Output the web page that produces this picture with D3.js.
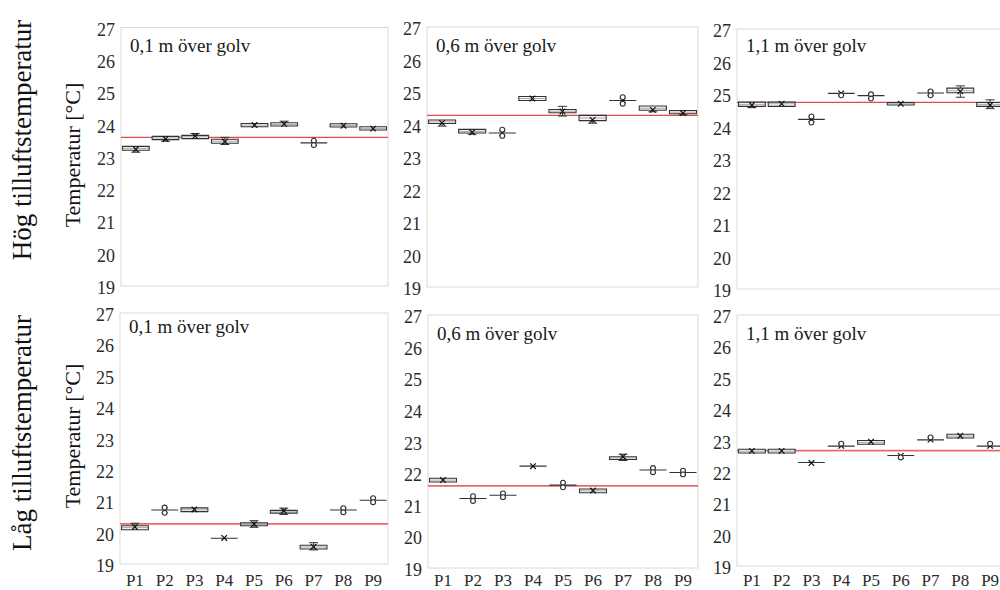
<!DOCTYPE html>
<html>
<head>
<meta charset="utf-8">
<script src="https://cdn.jsdelivr.net/npm/d3@7"></script>
<style>
  html, body { margin: 0; padding: 0; background: #fff; }
  svg { display: block; }
  svg text { font-family: "Liberation Serif", "Times New Roman", Times, "DejaVu Serif", serif !important; }
</style>
</head>
<body>
<svg id="chart" width="1000" height="590"></svg>
<script>
// Measuring points and axis ticks
const points = ["P1", "P2", "P3", "P4", "P5", "P6", "P7", "P8", "P9"];
const yTicks = [19, 20, 21, 22, 23, 24, 25, 26, 27];
const rowTitles = ["Hög tilluftstemperatur", "Låg tilluftstemperatur"];
const heightTitles = ["0,1 m över golv", "0,6 m över golv", "1,1 m över golv"];
const axisTitle = "Temperatur [°C]";

// Reference temperature per panel (row: high / low supply temperature)
const refHigh = [23.6, 24.28, 24.74];
const refLow = [20.28, 21.6, 22.68];

// Box statistics per point: [min, q1, median, q3, max, mean]
const high01 = [
  [23.14, 23.20, 23.26, 23.32, 23.32, 23.23],
  [23.48, 23.53, 23.58, 23.63, 23.63, 23.55],
  [23.56, 23.56, 23.62, 23.66, 23.72, 23.64],
  [23.38, 23.42, 23.48, 23.54, 23.60, 23.47],
  [23.93, 23.93, 23.98, 24.03, 24.03, 23.98],
  [23.95, 23.95, 24.00, 24.05, 24.10, 24.01],
  [23.43, 23.43, 23.43, 23.43, 23.43, 23.42],
  [23.92, 23.92, 23.97, 24.02, 24.02, 23.96],
  [23.83, 23.83, 23.88, 23.93, 23.93, 23.87]
];
const high06 = [
  [23.95, 24.03, 24.08, 24.14, 24.14, 24.05],
  [23.70, 23.74, 23.79, 23.85, 23.85, 23.76],
  [23.74, 23.74, 23.74, 23.74, 23.74, 23.74],
  [24.74, 24.74, 24.80, 24.86, 24.86, 24.80],
  [24.26, 24.36, 24.41, 24.46, 24.56, 24.40],
  [24.04, 24.12, 24.20, 24.28, 24.28, 24.14],
  [24.74, 24.74, 24.74, 24.74, 24.74, 24.74],
  [24.39, 24.44, 24.50, 24.57, 24.57, 24.45],
  [24.30, 24.33, 24.38, 24.43, 24.43, 24.35]
];
const high11 = [
  [24.58, 24.62, 24.68, 24.75, 24.75, 24.66],
  [24.62, 24.62, 24.70, 24.75, 24.75, 24.70],
  [24.22, 24.22, 24.22, 24.22, 24.22, 24.22],
  [25.02, 25.02, 25.02, 25.02, 25.02, 25.02],
  [24.95, 24.95, 24.95, 24.95, 24.95, 24.93],
  [24.66, 24.66, 24.70, 24.74, 24.74, 24.70],
  [25.03, 25.03, 25.03, 25.03, 25.03, 25.02],
  [24.90, 25.04, 25.10, 25.18, 25.25, 25.08],
  [24.55, 24.62, 24.68, 24.74, 24.82, 24.66]
];
const low01 = [
  [20.09, 20.09, 20.16, 20.22, 20.30, 20.18],
  [20.72, 20.72, 20.72, 20.72, 20.72, 20.71],
  [20.67, 20.67, 20.73, 20.79, 20.79, 20.74],
  [19.82, 19.82, 19.82, 19.82, 19.82, 19.83],
  [20.17, 20.22, 20.26, 20.31, 20.38, 20.27],
  [20.58, 20.62, 20.66, 20.71, 20.78, 20.70],
  [19.45, 19.48, 19.54, 19.60, 19.68, 19.55],
  [20.72, 20.72, 20.72, 20.72, 20.72, 20.71],
  [21.03, 21.03, 21.03, 21.03, 21.03, 21.03]
];
const low06 = [
  [21.72, 21.72, 21.78, 21.84, 21.84, 21.78],
  [21.20, 21.20, 21.20, 21.20, 21.20, 21.19],
  [21.30, 21.30, 21.30, 21.30, 21.30, 21.29],
  [22.22, 22.22, 22.22, 22.22, 22.22, 22.22],
  [21.62, 21.62, 21.62, 21.62, 21.62, 21.62],
  [21.38, 21.38, 21.44, 21.50, 21.50, 21.45],
  [22.40, 22.43, 22.48, 22.52, 22.60, 22.52],
  [22.10, 22.10, 22.10, 22.10, 22.10, 22.09],
  [22.02, 22.02, 22.02, 22.02, 22.02, 22.01]
];
const low11 = [
  [22.60, 22.60, 22.66, 22.72, 22.72, 22.67],
  [22.60, 22.60, 22.66, 22.72, 22.72, 22.67],
  [22.30, 22.30, 22.30, 22.30, 22.30, 22.28],
  [22.82, 22.82, 22.82, 22.82, 22.82, 22.83],
  [22.88, 22.88, 22.94, 23.00, 23.00, 22.96],
  [22.52, 22.52, 22.52, 22.52, 22.52, 22.51],
  [23.02, 23.02, 23.02, 23.02, 23.02, 23.03],
  [23.08, 23.08, 23.14, 23.20, 23.20, 23.15],
  [22.82, 22.82, 22.82, 22.82, 22.82, 22.83]
];

// Outlying readings per point
const high01Out = [[], [], [], [], [], [], [23.50, 23.36], [], []];
const high06Out = [[], [], [23.84, 23.65], [], [], [], [24.84, 24.64], [], []];
const high11Out = [[], [], [24.31, 24.12], [24.96], [24.99, 24.86], [], [25.08, 24.96], [], []];
const low01Out = [[], [20.80, 20.63], [], [], [], [], [], [20.78, 20.65], [21.10, 20.97]];
const low06Out = [[], [21.27, 21.12], [21.36, 21.24], [], [21.70, 21.55], [], [], [22.16, 22.03], [22.08, 21.96]];
const low11Out = [[], [], [], [22.90], [], [22.46], [23.10], [], [22.90]];

// Panel frames (plot areas) in page pixels
const panels = [
  { stats: high01, out: high01Out, ref: refHigh[0], title: heightTitles[0], row: 0, x0: 121, x1: 388, y0: 27.5, y1: 286, titleY: 52 },
  { stats: high06, out: high06Out, ref: refHigh[1], title: heightTitles[1], row: 0, x0: 427, x1: 698, y0: 27, y1: 287, titleY: 52 },
  { stats: high11, out: high11Out, ref: refHigh[2], title: heightTitles[2], row: 0, x0: 737, x1: 1005, y0: 29, y1: 289, titleY: 52 },
  { stats: low01, out: low01Out, ref: refLow[0], title: heightTitles[0], row: 1, x0: 120, x1: 388, y0: 313, y1: 564, titleY: 333 },
  { stats: low06, out: low06Out, ref: refLow[1], title: heightTitles[1], row: 1, x0: 428, x1: 698, y0: 315, y1: 568, titleY: 340 },
  { stats: low11, out: low11Out, ref: refLow[2], title: heightTitles[2], row: 1, x0: 737, x1: 1005, y0: 315, y1: 566, titleY: 340 }
];

const svg = d3.select("#chart");
const ink = "#333";

// Row titles and y-axis titles
rowTitles.forEach((t, i) => {
  const cy = i === 0 ? 140 : 433;
  svg.append("text")
    .attr("transform", `translate(31,${cy}) rotate(-90)`)
    .attr("text-anchor", "middle")
    .attr("font-size", 27)
    .attr("fill", "#111")
    .text(t);
  const cy2 = i === 0 ? 155 : 436;
  svg.append("text")
    .attr("transform", `translate(80,${cy2}) rotate(-90)`)
    .attr("text-anchor", "middle")
    .attr("font-size", 22)
    .attr("fill", "#111")
    .text(axisTitle);
});

panels.forEach(p => {
  const g = svg.append("g");
  const x = d3.scaleBand().domain(points).range([p.x0, p.x1]).paddingInner(0.1).paddingOuter(0.05);
  const y = d3.scaleLinear().domain([yTicks[0], yTicks[yTicks.length - 1]]).range([p.y1, p.y0]);

  // plot-area frame
  g.append("rect")
    .attr("x", p.x0).attr("y", p.y0)
    .attr("width", p.x1 - p.x0).attr("height", p.y1 - p.y0)
    .attr("fill", "none").attr("stroke", "#d9d9d9").attr("stroke-width", 1);

  // y axis labels
  const ya = g.append("g")
    .attr("transform", `translate(${p.x0},0)`)
    .call(d3.axisLeft(y).tickValues(yTicks).tickSize(0).tickPadding(6).tickFormat(d3.format("d")));
  ya.select(".domain").remove();
  ya.selectAll("text")
    .attr("font-size", 18)
    .attr("fill", "#2b2b2b")
    .attr("dy", "0.42em");

  // x axis labels, bottom row only
  if (p.row === 1) {
    const xa = g.append("g")
      .attr("transform", `translate(0,${p.y1})`)
      .call(d3.axisBottom(x).tickSize(0));
    xa.select(".domain").remove();
    xa.selectAll("text")
      .attr("font-size", 17)
      .attr("fill", "#2b2b2b")
      .attr("y", 586 - p.y1)
      .attr("dy", 0);
  }

  // reference level
  g.append("line")
    .attr("x1", p.x0).attr("x2", p.x1)
    .attr("y1", y(p.ref)).attr("y2", y(p.ref))
    .attr("stroke", p.row === 0 ? "#e04b4b" : "#e86a6a")
    .attr("stroke-width", p.row === 0 ? 1.3 : 1.8);

  // panel title
  g.append("text")
    .attr("x", p.x0 + 9).attr("y", p.titleY)
    .attr("font-size", 19)
    .attr("fill", "#1a1a1a")
    .text(p.title);

  // box plots
  const capW = 9;
  points.forEach((pt, i) => {
    const [lo, q1, med, q3, hi, mean] = p.stats[i];
    const bx = x(pt), bw = x.bandwidth(), cx = bx + bw / 2;
    const b = g.append("g");
    // whiskers
    if (hi > q3) {
      b.append("line").attr("x1", cx).attr("x2", cx).attr("y1", y(q3)).attr("y2", y(hi)).attr("stroke", ink);
      b.append("line").attr("x1", cx - capW / 2).attr("x2", cx + capW / 2).attr("y1", y(hi)).attr("y2", y(hi)).attr("stroke", ink);
    }
    if (lo < q1) {
      b.append("line").attr("x1", cx).attr("x2", cx).attr("y1", y(q1)).attr("y2", y(lo)).attr("stroke", ink);
      b.append("line").attr("x1", cx - capW / 2).attr("x2", cx + capW / 2).attr("y1", y(lo)).attr("y2", y(lo)).attr("stroke", ink);
    }
    // box (collapses to a line when q1 == q3)
    const yt = y(q3), yb = y(q1);
    b.append("path")
      .attr("d", `M${bx},${yt}H${bx + bw}V${yb}H${bx}Z`)
      .attr("fill", "#f7f7f7").attr("stroke", ink).attr("stroke-width", 1.1);
    if (q3 > q1) {
      b.append("line").attr("x1", bx).attr("x2", bx + bw).attr("y1", y(med)).attr("y2", y(med))
        .attr("stroke", "#777").attr("stroke-width", 0.6);
    }
    // mean marker
    const my = y(mean), s = 2.8;
    b.append("path")
      .attr("d", `M${cx - s},${my - s}L${cx + s},${my + s}M${cx - s},${my + s}L${cx + s},${my - s}`)
      .attr("stroke", "#111").attr("stroke-width", 1.2);
    // outliers
    p.out[i].forEach(v => {
      b.append("circle").attr("cx", cx).attr("cy", y(v)).attr("r", 2.4)
        .attr("fill", "#fff").attr("stroke", ink).attr("stroke-width", 1.1);
    });
  });
});
</script>
</body>
</html>
